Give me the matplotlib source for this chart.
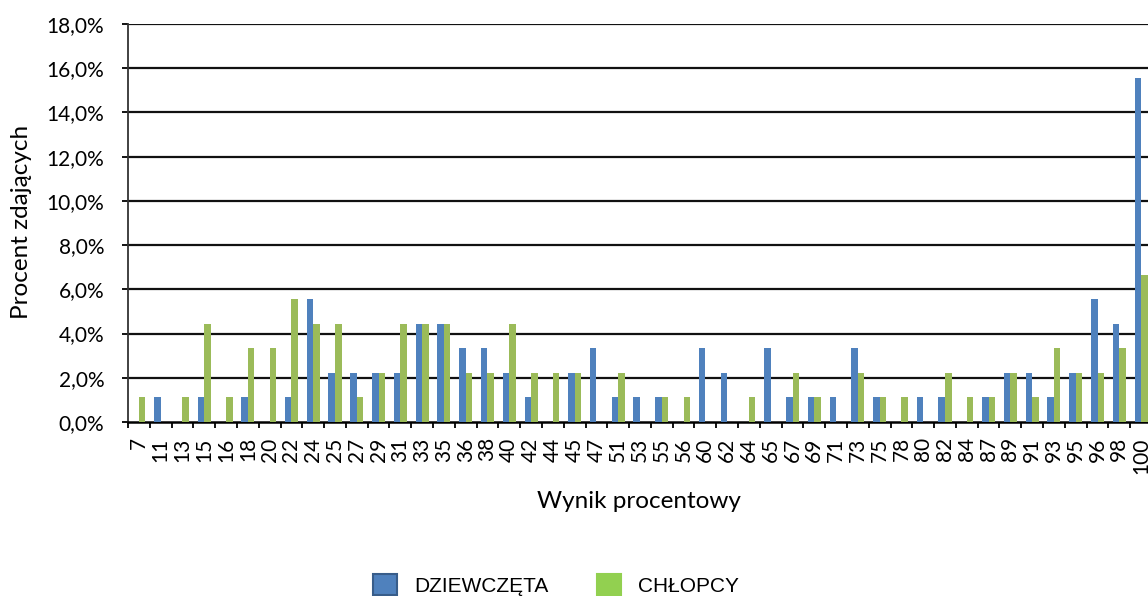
import matplotlib
matplotlib.use("Agg")
import matplotlib.pyplot as plt
import numpy as np
from matplotlib.ticker import FuncFormatter, FixedLocator
from matplotlib.patches import Patch

categories = ["7", "11", "13", "15", "16", "18", "20", "22", "24", "25", "27", "29", "31",
              "33", "35", "36", "38", "40", "42", "44", "45", "47", "51", "53", "55", "56",
              "60", "62", "64", "65", "67", "69", "71", "73", "75", "78", "80", "82", "84",
              "87", "89", "91", "93", "95", "96", "98", "100"]

dziewczeta = [0, 1.11, 0, 1.11, 0, 1.11, 0, 1.11, 5.56, 2.22, 2.22, 2.22, 2.22,
              4.44, 4.44, 3.33, 3.33, 2.22, 1.11, 0, 2.22, 3.33, 1.11, 1.11, 1.11, 0,
              3.33, 2.22, 0, 3.33, 1.11, 1.11, 1.11, 3.33, 1.11, 0, 1.11, 1.11, 0,
              1.11, 2.22, 2.22, 1.11, 2.22, 5.56, 4.44, 15.56]

chlopcy = [1.11, 0, 1.11, 4.44, 1.11, 3.33, 3.33, 5.56, 4.44, 4.44, 1.11, 2.22, 4.44,
           4.44, 4.44, 2.22, 2.22, 4.44, 2.22, 2.22, 2.22, 0, 2.22, 0, 1.11, 1.11,
           0, 0, 1.11, 0, 2.22, 1.11, 0, 2.22, 1.11, 1.11, 0, 2.22, 1.11,
           1.11, 2.22, 1.11, 3.33, 2.22, 2.22, 3.33, 6.67]

series_names = ["DZIEWCZĘTA", "CHŁOPCY"]
y_ticks = [0, 2, 4, 6, 8, 10, 12, 14, 16, 18]

W, H = 1148, 596
fig = plt.figure(figsize=(W / 100, H / 100), dpi=100)
ax = fig.add_axes([128 / W, 1 - 422 / H, (1152 - 128) / W, (422 - 24) / H])

x = np.arange(len(categories))
bw = 0.3
blue = "#4F81BD"
green = "#9BBB59"
ax.bar(x - bw / 2, dziewczeta, width=bw, color=blue, edgecolor="none", zorder=3)
ax.bar(x + bw / 2, chlopcy, width=bw, color=green, edgecolor="none", zorder=3)

ax.set_xlim(-0.5, len(categories) - 0.5)
ax.set_ylim(0, 18)
ax.yaxis.set_major_locator(FixedLocator(y_ticks))
ax.yaxis.set_major_formatter(FuncFormatter(lambda v, p: f"{v:.1f}%".replace(".", ",")))
for t in y_ticks[1:]:
    ax.axhline(t, color="#111111", lw=1.6, zorder=2)

ax.set_xticks(x)
ax.set_xticklabels(categories, rotation=90, fontsize=15, family="Lato")
ax.set_xticks(np.arange(-0.5, len(categories)), minor=True)
ax.tick_params(axis="x", which="major", length=0, pad=11)
ax.tick_params(axis="x", which="minor", length=4.5, width=1.3, direction="out", color="black")
ax.tick_params(axis="y", which="major", length=4, width=1.3, direction="out", color="black",
               labelsize=15, pad=13)
for lab in ax.get_yticklabels():
    lab.set_family("Lato")

for s in ["top", "right"]:
    ax.spines[s].set_visible(False)
ax.spines["left"].set_linewidth(1.3)
ax.spines["bottom"].set_linewidth(1.8)
ax.spines["left"].set_color("#333333")
ax.spines["bottom"].set_color("black")

fig.text(639 / W, 1 - 501 / H, "Wynik procentowy", ha="center", va="center",
         fontsize=17.5, family="Lato")
fig.text(22 / W, 1 - 222 / H, "Procent zdających", ha="center", va="center",
         rotation=90, fontsize=17.5, family="Lato")

handles = [Patch(facecolor=blue, edgecolor="#385D8A", linewidth=1.5),
           Patch(facecolor="#92D050", edgecolor="#92D050", linewidth=1.5)]
leg = fig.legend(handles, series_names, loc="center", bbox_to_anchor=(556 / W, 1 - 585 / H),
                 ncol=2, frameon=False, prop={"family": "Liberation Sans", "size": 15},
                 handlelength=1.15, handleheight=1.15, columnspacing=2.3, handletextpad=0.82,
                 borderpad=0, borderaxespad=0)

fig.savefig("out.png", dpi=100)
